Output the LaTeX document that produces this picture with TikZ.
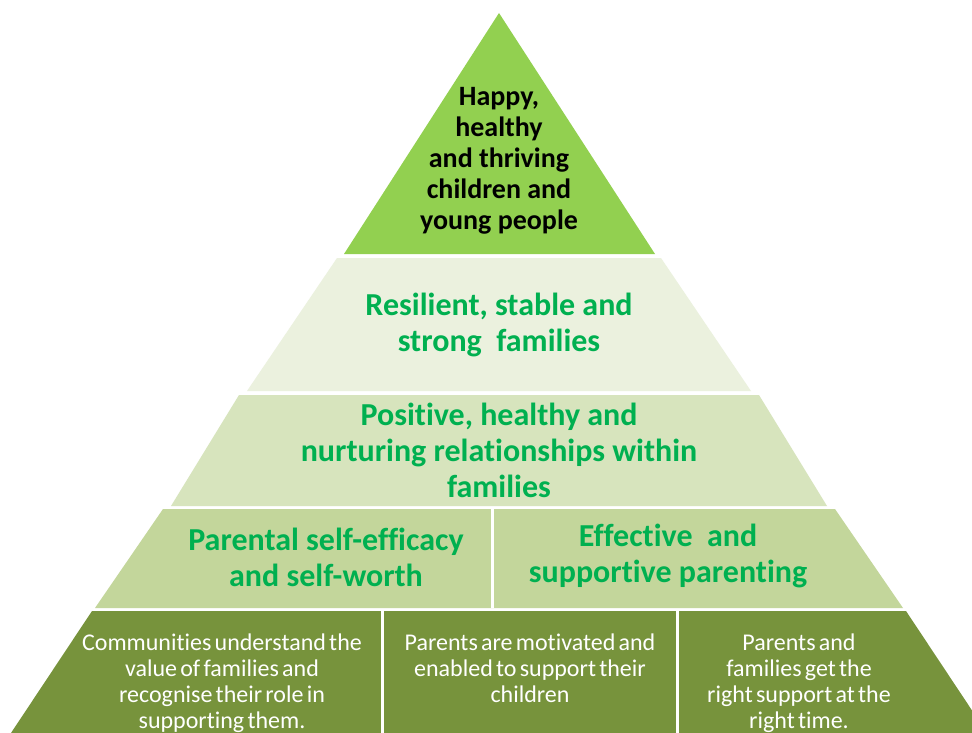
\documentclass[tikz,border=0pt]{standalone}
\usepackage{fontspec}
\setmainfont[Ligatures=NoCommon]{Carlito}
\newfontfamily\basefont[WordSpace=0.6,Ligatures=NoCommon]{Carlito}
\usepackage{tikz}

\definecolor{apexgreen}{HTML}{92D050}
\definecolor{palegreen}{HTML}{EBF1DE}
\definecolor{lightgreen}{HTML}{D7E4BD}
\definecolor{midgreen}{HTML}{C3D69B}
\definecolor{basegreen}{HTML}{77933C}
\definecolor{textgreen}{HTML}{00B050}

\begin{document}
\begin{tikzpicture}[x=1pt,y=-1pt,
  layertext/.style={font=\bfseries\fontsize{32}{36}\selectfont, align=center, text=textgreen, inner sep=0pt},
  basetext/.style={font=\basefont\fontsize{24}{26}\selectfont, align=center, text=white, inner sep=0pt, anchor=north}]

\useasboundingbox (0,0) rectangle (972,733);
\fill [color=white] (0,0) rectangle (972,733);
\clip (0,0) rectangle (972,733);

% pyramid layers, top to bottom
\fill [color=apexgreen] (499,13) -- (655,254) -- (344,254) -- cycle;
\fill [color=palegreen] (337,258) -- (661,258) -- (751,391) -- (247,391) -- cycle;
\fill [color=lightgreen] (239,395) -- (759,395) -- (827,506) -- (171,506) -- cycle;
\fill [color=midgreen] (163,509) -- (835,509) -- (903,608) -- (95,608) -- cycle;
\fill [color=basegreen] (92,611) -- (906,611) -- (987,733) -- (11,733) -- cycle;

% dividers
\draw [color=white, line width=3] (492,509) -- (492,608);
\draw [color=white, line width=3] (382.5,611) -- (382.5,733);
\draw [color=white, line width=3] (677.5,611) -- (677.5,733);

\node (apex) at (499,161) [layertext, text=black, font=\bfseries\fontsize{28}{31}\selectfont]
  {Happy,\\healthy\\and thriving\\children and\\young people};

\node (resilient) at (499,325) [layertext] {Resilient, stable and\\strong\ \ families};
\node (positive) at (499,450) [layertext] {Positive, healthy and\\nurturing relationships within\\families};

\node (selfworth) at (326,557) [layertext] {Parental self-efficacy\\and self-worth};
\node (parenting) at (668,556) [layertext] {Effective\ \ and\\supportive parenting};

\node (communities) at (222,634) [basetext]
  {Communities understand the\\value of families and\\recognise their role in\\supporting them.};
\node (motivated) at (530,634) [basetext]
  {Parents are motivated and\\enabled to support their\\children};
\node (support) at (799,634) [basetext]
  {Parents and\\families get the\\right support at the\\right time.};

\end{tikzpicture}
\end{document}
